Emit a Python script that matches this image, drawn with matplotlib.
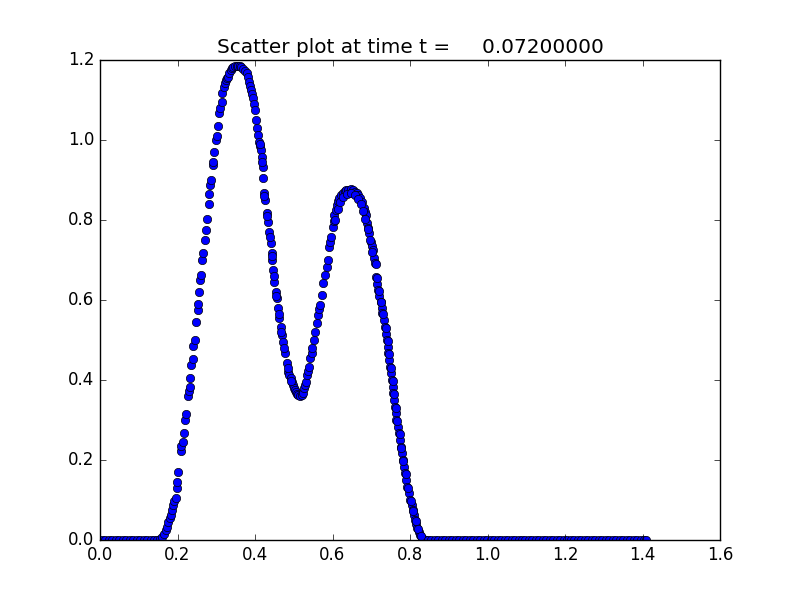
import matplotlib
matplotlib.use("Agg")
import matplotlib.pyplot as plt

plt.style.use("classic")

title_text = "Scatter plot at time t =     0.07200000"

x_left_flat = [0.005, 0.014, 0.023, 0.032, 0.041, 0.050, 0.059, 0.068, 0.077, 0.086,
               0.095, 0.104, 0.113, 0.122, 0.131, 0.140, 0.148, 0.155, 0.161, 0.166]
y_left_flat = [0, 0, 0, 0, 0, 0, 0, 0, 0, 0,
               0, 0, 0, 0, 0, 0, 0.001, 0.003, 0.007, 0.016]

x_curve = [0.170, 0.172, 0.176, 0.180, 0.183, 0.186, 0.189, 0.192, 0.196, 0.198, 0.199, 0.202,
           0.208, 0.210, 0.213, 0.217, 0.220, 0.222, 0.228, 0.230, 0.231, 0.232, 0.235,
           0.239, 0.241, 0.244, 0.248, 0.252, 0.254, 0.255, 0.258, 0.261, 0.264, 0.267,
           0.271, 0.274, 0.275, 0.280, 0.282, 0.284, 0.286, 0.291, 0.292, 0.295, 0.299,
           0.301, 0.304, 0.308, 0.310, 0.314, 0.316, 0.320, 0.323, 0.325, 0.328, 0.331,
           0.334, 0.337, 0.340, 0.344, 0.348, 0.353, 0.357, 0.361, 0.365, 0.370, 0.374,
           0.379, 0.382, 0.385, 0.388, 0.390, 0.392, 0.394, 0.397, 0.400, 0.403, 0.406,
           0.409, 0.411, 0.413, 0.415, 0.417, 0.420, 0.421, 0.423, 0.426, 0.430, 0.433,
           0.436, 0.440, 0.443, 0.445, 0.447, 0.450, 0.453, 0.456, 0.460, 0.463, 0.467,
           0.470, 0.473, 0.477, 0.482, 0.486, 0.489, 0.492, 0.495, 0.497, 0.500, 0.503,
           0.506, 0.509, 0.512, 0.516, 0.520, 0.523, 0.527, 0.530, 0.532, 0.535, 0.537,
           0.539, 0.543, 0.546, 0.548, 0.552, 0.556, 0.561, 0.563, 0.566, 0.568, 0.572,
           0.576, 0.581, 0.585, 0.589, 0.591, 0.593, 0.595, 0.600, 0.603, 0.605, 0.608,
           0.611, 0.615, 0.618, 0.622, 0.626, 0.631, 0.636, 0.641, 0.647, 0.652, 0.658,
           0.662, 0.667, 0.671, 0.675, 0.680, 0.683, 0.686, 0.690, 0.692, 0.695, 0.699,
           0.702, 0.704, 0.707, 0.709, 0.712, 0.715, 0.718, 0.721, 0.724, 0.727, 0.729,
           0.732, 0.735, 0.738, 0.740, 0.742, 0.744, 0.746, 0.748, 0.751, 0.753, 0.755,
           0.757, 0.759, 0.761, 0.763, 0.765, 0.768, 0.772, 0.774, 0.776, 0.779, 0.781,
           0.784, 0.787, 0.790, 0.793, 0.797, 0.800, 0.804, 0.807, 0.810, 0.813, 0.816,
           0.819, 0.822, 0.826, 0.830, 0.834, 0.840]
y_curve = [0.025, 0.033, 0.045, 0.055, 0.062, 0.075, 0.087, 0.097, 0.105, 0.130, 0.146, 0.169,
           0.223, 0.235, 0.246, 0.267, 0.300, 0.315, 0.360, 0.372, 0.383, 0.405, 0.4375,
           0.4525, 0.485, 0.500, 0.544, 0.575, 0.589, 0.619, 0.650, 0.6625, 0.700, 0.717,
           0.750, 0.775, 0.8025, 0.839, 0.865, 0.8875, 0.900, 0.9375, 0.946, 0.971, 1.000,
           1.010, 1.035, 1.067, 1.080, 1.096, 1.117, 1.133, 1.142, 1.150, 1.155, 1.158,
           1.167, 1.175, 1.179, 1.183, 1.185, 1.186, 1.186, 1.185, 1.182, 1.177, 1.172,
           1.167, 1.157, 1.146, 1.135, 1.125, 1.115, 1.104, 1.090, 1.075, 1.050, 1.029,
           1.0125, 0.996, 0.985, 0.975, 0.958, 0.933, 0.904, 0.867, 0.850, 0.817, 0.796,
           0.771, 0.742, 0.717, 0.700, 0.675, 0.646, 0.621, 0.604, 0.579, 0.554, 0.533,
           0.5125, 0.496, 0.467, 0.442, 0.421, 0.412, 0.404, 0.395, 0.3875, 0.381, 0.375,
           0.369, 0.365, 0.362, 0.361, 0.363, 0.367, 0.379, 0.388, 0.396, 0.4125, 0.422,
           0.433, 0.454, 0.467, 0.479, 0.500, 0.521, 0.542, 0.5625, 0.577, 0.5875, 0.6125,
           0.642, 0.6625, 0.683, 0.700, 0.733, 0.745, 0.758, 0.783, 0.798, 0.8125, 0.826,
           0.8375, 0.847, 0.854, 0.862, 0.868, 0.872, 0.875, 0.876, 0.877, 0.875, 0.871,
           0.867, 0.8625, 0.855, 0.846, 0.829, 0.820, 0.8125, 0.792, 0.780, 0.767, 0.746,
           0.735, 0.725, 0.704, 0.692, 0.658, 0.640, 0.625, 0.610, 0.596, 0.580, 0.567,
           0.550, 0.533, 0.515, 0.500, 0.483, 0.467, 0.450, 0.433, 0.417, 0.400, 0.383,
           0.367, 0.350, 0.333, 0.317, 0.300, 0.283, 0.267, 0.250, 0.233, 0.217, 0.200,
           0.183, 0.167, 0.150, 0.133, 0.117, 0.100, 0.087, 0.075, 0.062, 0.050, 0.040,
           0.029, 0.020, 0.0125, 0.006, 0.003, 0.001]

# additional overlapping particles in the dense parts of the profile
x_dense = [0.412, 0.418, 0.424, 0.431, 0.438, 0.444, 0.449, 0.455, 0.461, 0.468, 0.475,
           0.484, 0.494,
           0.606, 0.613, 0.620, 0.628, 0.638, 0.648, 0.657, 0.666, 0.673, 0.679, 0.685,
           0.691, 0.697, 0.703,
           0.712, 0.716, 0.720, 0.726, 0.731, 0.737, 0.742, 0.746, 0.750, 0.755, 0.759,
           0.763, 0.767, 0.774, 0.778, 0.783, 0.789, 0.795, 0.802, 0.809, 0.815, 0.821,
           0.828]
y_dense = [0.990, 0.945, 0.860, 0.810, 0.757, 0.710, 0.660, 0.610, 0.565, 0.520, 0.480,
           0.430, 0.398,
           0.800, 0.828, 0.845, 0.858, 0.865, 0.867, 0.862, 0.852, 0.840, 0.823, 0.803,
           0.778, 0.750, 0.720,
           0.690, 0.655, 0.622, 0.594, 0.565, 0.531, 0.498, 0.465, 0.431, 0.398, 0.365,
           0.331, 0.298, 0.265, 0.231, 0.198, 0.165, 0.131, 0.098, 0.073, 0.048, 0.027,
           0.011]

x_right_flat = [0.846, 0.855, 0.864, 0.873, 0.882, 0.891, 0.900, 0.909, 0.918, 0.927,
                0.936, 0.945, 0.954, 0.963, 0.972, 0.981, 0.990, 0.999, 1.008, 1.017,
                1.026, 1.035, 1.044, 1.053, 1.062, 1.071, 1.080, 1.089, 1.098, 1.107,
                1.116, 1.125, 1.134, 1.143, 1.152, 1.161, 1.170, 1.179, 1.188, 1.197,
                1.206, 1.215, 1.224, 1.233, 1.242, 1.251, 1.260, 1.269, 1.278, 1.287,
                1.296, 1.305, 1.314, 1.323, 1.332, 1.341, 1.350, 1.359, 1.368, 1.377,
                1.386, 1.395, 1.404, 1.410]
y_right_flat = [0.0] * len(x_right_flat)

x_all = x_left_flat + x_curve + x_dense + x_right_flat
y_all = y_left_flat + y_curve + y_dense + y_right_flat

fig = plt.figure(figsize=(8, 6), dpi=100)
ax = fig.add_subplot(111)
ax.plot(x_all, y_all, "o", color="b", markeredgecolor="k", markeredgewidth=0.5,
        markersize=6, linestyle="none")
ax.set_xlim(0.0, 1.6)
ax.set_ylim(0.0, 1.2)
ax.set_title(title_text)
fig.savefig("out.png", dpi=100)
